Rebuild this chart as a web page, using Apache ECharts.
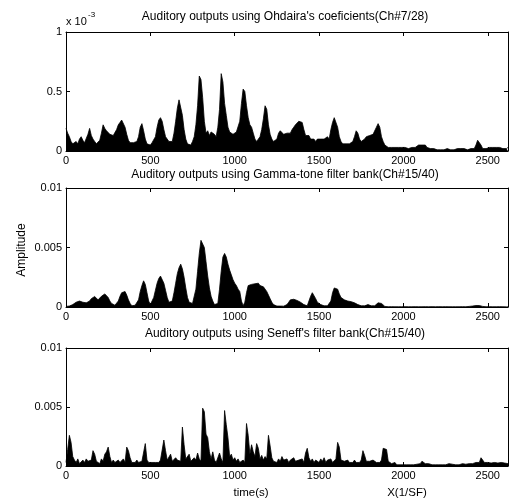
<!DOCTYPE html>
<html><head><meta charset="utf-8">
<script src="https://cdn.jsdelivr.net/npm/echarts@6/dist/echarts.min.js"></script>
<style>html,body{margin:0;padding:0;background:#fff}#c{width:511px;height:501px}</style>
</head><body><div id="c"></div>
<script>
// sample step (samples) between stored values
var step = 10;
var xMax = 2620;
var xTicks = [0, 500, 1000, 1500, 2000, 2500];
var titles = [
  "Auditory outputs using Ohdaira's coeficients(Ch#7/28)",
  "Auditory outputs using Gamma-tone filter bank(Ch#15/40)",
  "Auditory outputs using Seneff's filter bank(Ch#15/40)"
];
// values in units of 1e-3
var ohdaira = [
  0.19,0.15,0.12,0.08,0.06,0.07,0.08,0.06,0.1,0.12,
  0.09,0.07,0.08,0.14,0.19,0.13,0.1,0.08,0.06,0.05,
  0.09,0.15,0.22,0.19,0.17,0.18,0.14,0.15,0.13,0.14,
  0.18,0.22,0.24,0.26,0.25,0.2,0.14,0.09,0.07,0.06,
  0.07,0.06,0.08,0.12,0.2,0.23,0.17,0.1,0.06,0.05,
  0.05,0.07,0.08,0.12,0.2,0.26,0.28,0.25,0.18,0.12,
  0.1,0.08,0.09,0.08,0.15,0.25,0.36,0.43,0.42,0.3,
  0.18,0.1,0.06,0.07,0.05,0.08,0.12,0.22,0.38,0.63,
  0.6,0.45,0.25,0.15,0.17,0.13,0.16,0.17,0.14,0.12,
  0.2,0.35,0.65,0.58,0.4,0.3,0.2,0.16,0.15,0.14,
  0.15,0.16,0.15,0.25,0.4,0.52,0.5,0.38,0.28,0.22,
  0.2,0.15,0.1,0.08,0.09,0.12,0.18,0.27,0.38,0.35,
  0.22,0.14,0.1,0.08,0.09,0.1,0.15,0.17,0.16,0.14,
  0.13,0.15,0.14,0.15,0.18,0.2,0.22,0.21,0.25,0.26,
  0.24,0.18,0.13,0.12,0.13,0.1,0.09,0.1,0.08,0.1,
  0.09,0.1,0.11,0.1,0.11,0.12,0.1,0.18,0.24,0.28,
  0.27,0.2,0.12,0.08,0.06,0.05,0.06,0.05,0.06,0.05,
  0.08,0.12,0.17,0.15,0.1,0.08,0.07,0.1,0.12,0.11,
  0.13,0.12,0.14,0.15,0.2,0.23,0.2,0.12,0.08,0.05,
  0.04,0.03,0.02,0.03,0.02,0.03,0.02,0.03,0.02,0.03,
  0.02,0.03,0.03,0.02,0.03,0.03,0.02,0.03,0.04,0.05,
  0.05,0.05,0.04,0.05,0.03,0.02,0.02,0.01,0.02,0.01,
  0.01,0.02,0.01,0.01,0.01,0.01,0.02,0.01,0.01,0.02,
  0.01,0.01,0.02,0.01,0.02,0.01,0.02,0.02,0.01,0.02,
  0.02,0.03,0.02,0.05,0.09,0.08,0.05,0.02,0.03,0.02,
  0.02,0.03,0.02,0.03,0.02,0.03,0.02,0.03,0.03,0.02,
  0.03,0.02,0.03
];
var gammatone = [
  0.05,0.05,0.08,0.1,0.2,0.3,0.4,0.45,0.5,0.45,
  0.4,0.38,0.35,0.3,0.5,0.7,0.85,0.88,0.75,0.6,
  0.7,0.9,1.0,1.1,1.0,0.8,0.5,0.3,0.2,0.15,
  0.2,0.5,0.9,1.2,1.35,1.3,1.0,0.6,0.3,0.1,
  0.1,0.15,0.3,0.6,1.3,1.8,2.2,1.9,1.2,0.5,
  0.2,0.3,0.8,1.4,2.0,2.4,2.6,2.5,2.0,1.4,
  0.8,0.4,0.3,0.5,1.2,2.0,2.8,3.3,3.6,3.2,
  2.5,1.6,0.8,0.4,0.3,0.3,0.4,1.5,3.0,4.5,
  5.6,5.5,5.0,3.8,2.6,1.6,0.9,0.5,0.2,0.1,
  0.3,1.5,3.0,4.2,4.5,4.2,3.6,3.1,2.7,2.3,
  2.0,1.8,1.5,1.3,0.5,0.1,0.4,1.2,1.8,1.9,
  1.9,1.8,1.95,1.9,2.0,1.8,1.85,1.7,1.6,1.3,
  1.0,0.7,0.4,0.2,0.1,0.08,0.06,0.08,0.06,0.07,
  0.1,0.2,0.4,0.6,0.7,0.65,0.6,0.55,0.5,0.4,
  0.3,0.2,0.15,0.1,0.5,0.9,1.2,1.1,0.7,0.4,
  0.3,0.2,0.15,0.1,0.1,0.1,0.12,0.5,1.2,1.6,
  1.7,1.5,1.1,0.8,0.7,0.6,0.55,0.5,0.5,0.45,
  0.4,0.35,0.3,0.2,0.15,0.1,0.12,0.1,0.15,0.2,
  0.15,0.1,0.08,0.1,0.2,0.35,0.4,0.3,0.15,0.05,
  0.03,0.02,0.02,0.03,0.02,0.02,0.03,0.02,0.02,0.02,
  0.02,0.03,0.02,0.02,0.03,0.02,0.02,0.03,0.02,0.02,
  0.03,0.02,0.02,0.03,0.02,0.02,0.02,0.03,0.02,0.02,
  0.02,0.03,0.02,0.02,0.02,0.03,0.02,0.02,0.03,0.02,
  0.02,0.02,0.03,0.02,0.02,0.03,0.02,0.02,0.03,0.05,
  0.06,0.08,0.1,0.12,0.15,0.12,0.08,0.05,0.03,0.02,
  0.02,0.03,0.02,0.02,0.03,0.02,0.02,0.03,0.02,0.02,
  0.03,0.02,0.02
];
var seneff = [
  0.3,1.4,2.6,2.0,0.8,0.5,0.3,0.6,0.2,0.3,
  0.5,0.3,0.6,0.4,0.3,0.5,1.3,1.0,0.4,0.3,
  0.2,0.6,0.4,1.0,1.2,1.6,0.8,0.3,0.5,0.3,
  0.4,0.5,0.3,0.4,0.6,0.3,1.6,1.3,0.7,0.3,
  0.4,0.3,0.5,0.3,0.2,0.4,0.3,1.9,0.5,0.3,
  0.2,0.3,0.4,0.3,0.2,0.3,0.5,0.4,2.2,1.3,
  0.5,0.6,1.0,0.4,0.3,0.7,0.5,0.6,0.4,3.3,
  1.8,0.6,0.5,1.0,0.4,0.3,0.7,0.5,1.1,0.6,
  0.4,4.9,4.6,2.7,2.4,1.2,0.6,1.2,0.5,0.3,
  0.4,1.1,0.6,0.3,4.7,3.5,2.4,0.8,1.0,0.5,
  0.7,0.4,0.6,0.3,0.2,0.5,0.3,3.6,2.6,1.0,
  1.8,1.2,0.8,1.9,1.5,0.6,0.9,0.5,0.8,0.6,
  2.6,1.7,0.7,0.4,0.5,0.3,0.6,0.4,0.8,0.5,
  0.4,0.6,0.3,0.5,0.4,0.7,0.4,0.3,0.5,0.4,
  0.6,0.3,1.1,1.5,0.7,0.4,0.6,0.3,0.5,0.4,
  0.3,0.6,0.4,0.7,0.3,0.5,0.4,0.6,0.3,0.4,
  0.6,2.0,1.6,0.5,0.6,0.4,0.3,0.5,0.3,0.4,
  0.3,0.5,0.3,0.4,0.3,0.5,1.3,0.9,0.4,0.3,
  0.4,0.3,0.5,0.6,0.3,0.4,0.3,0.5,1.5,1.5,
  1.4,0.4,0.3,0.2,0.2,0.3,0.1,0.2,0.1,0.2,
  0.1,0.2,0.1,0.15,0.1,0.2,0.1,0.2,0.15,0.1,
  0.2,0.4,0.3,0.2,0.1,0.2,0.15,0.1,0.2,0.1,
  0.15,0.1,0.2,0.1,0.15,0.1,0.1,0.2,0.1,0.15,
  0.1,0.1,0.15,0.1,0.1,0.2,0.1,0.15,0.1,0.2,
  0.15,0.2,0.2,0.3,0.25,0.3,0.7,0.5,0.3,0.25,
  0.3,0.2,0.25,0.2,0.3,0.2,0.25,0.2,0.3,0.2,
  0.25,0.2,0.2
];
var yMaxes = [1, 10, 10];
var yIntervals = [0.5, 5, 5];
var yScale = [1, 0.001, 0.001]; // label multiplier
var seriesData = [ohdaira, gammatone, seneff];

var FONT = 'Liberation Sans, Arial, sans-serif';
var grids = [
  {left: 66, right: 3, top: 32, height: 119},
  {left: 66, right: 3, top: 188, height: 119},
  {left: 66, right: 3, top: 348, height: 118}
];
var xAxes = [], yAxes = [], series = [];
var lineStyle = {color: '#000', width: 1};
for (var i = 0; i < 3; i++) {
  xAxes.push({type: 'value', gridIndex: i, min: 0, max: xMax, interval: 500, position: 'bottom',
    axisLine: {onZero: false, lineStyle: lineStyle}, axisTick: {inside: true, length: 4, lineStyle: lineStyle},
    axisLabel: {color: '#000', fontSize: 11, fontFamily: FONT, margin: 4, showMaxLabel: false,
      formatter: function (v) { return xTicks.indexOf(v) >= 0 ? String(v) : ''; }},
    splitLine: {show: false}});
  xAxes.push({type: 'value', gridIndex: i, min: 0, max: xMax, interval: 500, position: 'top',
    axisLine: {onZero: false, lineStyle: lineStyle}, axisTick: {inside: true, length: 4, lineStyle: lineStyle},
    axisLabel: {show: false}, splitLine: {show: false}});
  (function (k) {
    yAxes.push({type: 'value', gridIndex: k, min: 0, max: yMaxes[k], interval: yIntervals[k], position: 'left',
      axisLine: {show: true, onZero: false, lineStyle: lineStyle}, axisTick: {show: true, inside: true, length: 4, lineStyle: lineStyle},
      axisLabel: {color: '#000', fontSize: 11, fontFamily: FONT, margin: 4,
        formatter: function (v) { return String(+(v * yScale[k]).toPrecision(6)); }},
      splitLine: {show: false}});
    yAxes.push({type: 'value', gridIndex: k, min: 0, max: yMaxes[k], interval: yIntervals[k], position: 'right',
      axisLine: {show: true, onZero: false, lineStyle: lineStyle}, axisTick: {show: true, inside: true, length: 4, lineStyle: lineStyle},
      axisLabel: {show: false}, splitLine: {show: false}});
  })(i);
  var d = seriesData[i].map(function (v, j) { return [j * step, v]; });
  series.push({type: 'line', xAxisIndex: i * 2, yAxisIndex: i * 2, data: d, showSymbol: false, symbol: 'none',
    lineStyle: {color: '#000', width: 0.8}, areaStyle: {color: '#000', opacity: 1}, animation: false, silent: true});
}
var titleY = [17, 175, 334];
var graphics = [];
titles.forEach(function (t, i) {
  graphics.push({type: 'text', x: 285, y: titleY[i], style: {text: t, font: '12px ' + FONT, fill: '#000', align: 'center', verticalAlign: 'middle'}});
});
graphics.push({type: 'text', x: 66, y: 22, style: {text: 'x 10', font: '11px ' + FONT, fill: '#000', align: 'left', verticalAlign: 'middle'}});
graphics.push({type: 'text', x: 88, y: 15, style: {text: '-3', font: '8px ' + FONT, fill: '#000', align: 'left', verticalAlign: 'middle'}});
graphics.push({type: 'text', x: 22, y: 250, rotation: Math.PI / 2, style: {text: 'Amplitude', font: '12px ' + FONT, fill: '#000', align: 'center', verticalAlign: 'middle'}});
graphics.push({type: 'text', x: 251, y: 493, style: {text: 'time(s)', font: '11.5px ' + FONT, fill: '#000', align: 'center', verticalAlign: 'middle'}});
graphics.push({type: 'text', x: 407, y: 493, style: {text: 'X(1/SF)', font: '11.5px ' + FONT, fill: '#000', align: 'center', verticalAlign: 'middle'}});

var chart = echarts.init(document.getElementById('c'), null, {renderer: 'canvas'});
chart.setOption({animation: false, backgroundColor: '#fff', grid: grids, xAxis: xAxes, yAxis: yAxes, series: series, graphic: graphics});
</script></body></html>
